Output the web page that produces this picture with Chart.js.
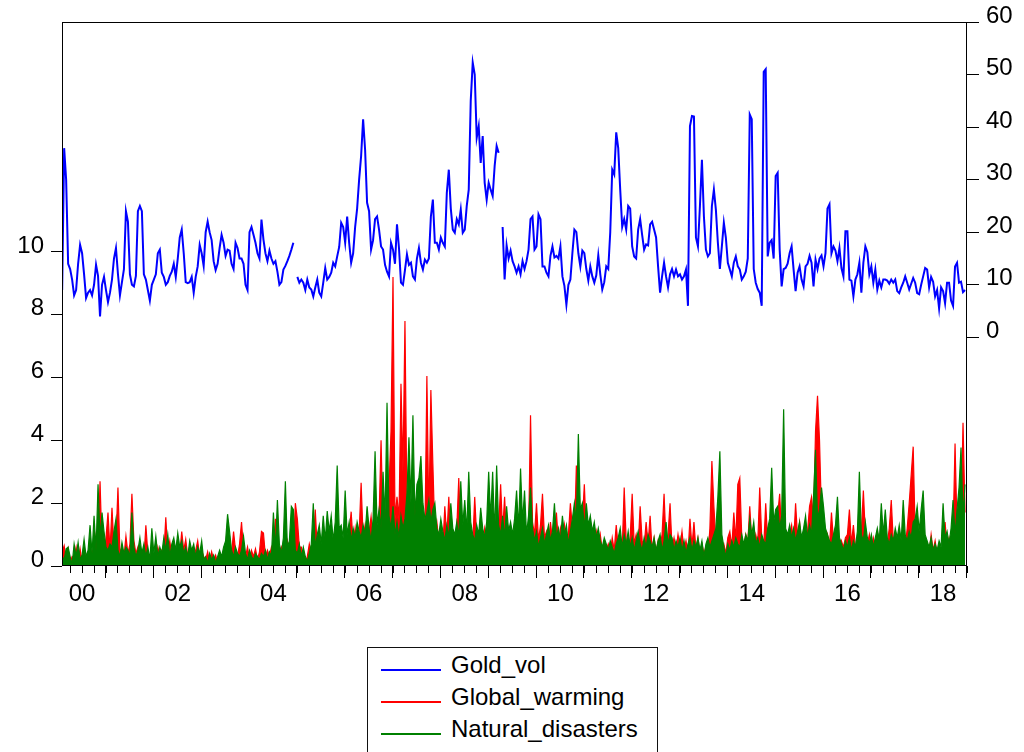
<!DOCTYPE html>
<html>
<head>
<meta charset="utf-8">
<script src="https://cdn.jsdelivr.net/npm/chart.js@4.4.1/dist/chart.umd.min.js"></script>
<style>
  body { margin: 0; background: #fff; }
  #quadro { position: relative; width: 1024px; height: 752px; overflow: hidden; font-family: 'Liberation Sans', Arial, sans-serif; }
  #grafico { position: absolute; left: 0; top: 0; }
  #legenda { position: absolute; left: 367px; top: 647px; width: 291px; height: 130px; border: 1px solid #111; box-sizing: border-box; background: #fff; }
  .linha { position: absolute; left: 13px; width: 60px; height: 2px; }
  .texto { position: absolute; left: 83px; font-size: 24px; line-height: 24px; color: #000; white-space: nowrap; }
</style>
</head>
<body>
<div id="quadro">
  <canvas id="grafico" width="1024" height="752"></canvas>
  <div id="legenda">
    <div class="linha" style="top:21px;background:#0000ff"></div><div class="texto" style="top:5px">Gold_vol</div>
    <div class="linha" style="top:53px;background:#ff0000"></div><div class="texto" style="top:37px">Global_warming</div>
    <div class="linha" style="top:85px;background:#008000"></div><div class="texto" style="top:69px">Natural_disasters</div>
  </div>
</div>
<script>
// observacoes semiquinzenais, 24 por ano, a partir da 3a de 2000
const inicioAno = 2000;
const porAno = 24;
const primeiraObs = 2;

const rotulosX = ['00', '02', '04', '06', '08', '10', '12', '14', '16', '18'];
const anosRotulo = [2000, 2002, 2004, 2006, 2008, 2010, 2012, 2014, 2016, 2018];
const ticksEsquerda = [0, 2, 4, 6, 8, 10];
const ticksDireita = [0, 10, 20, 30, 40, 50, 60];

const goldVol = [
  9, 36, 30, 14, 13, 11, 8, 9, 14, 17.6, 16, 12, 7.5, 8.5, 9, 8, 10, 13.8, 11.7, 4, 10, 11.5,
  9, 6.7, 8.5, 11, 15, 17, 12, 8, 10.5, 13, 24, 22, 12, 10, 9.7, 11.7, 24, 25, 24, 12, 11, 9, 7, 10,
  11, 12, 16, 16.7, 12.3, 11.5, 10, 10.5, 11.7, 12.5, 14, 11.5, 15, 19, 20.5, 16, 10.5, 10.3, 10.5, 11.5, 8.5, 11.5, 13.5, 17.6,
  16, 13.6, 20, 22, 20, 18.5, 14.5, 12.8, 14, 17, 19.5, 18, 15.5, 16.7, 16.5, 14, 13, 18, 17, 15, 15, 14, 10, 9,
  20, 21, 19.5, 18, 16, 15, 22.4, 18.6, 16, 14.5, 16.5, 15, 14, 14.5, 12.5, 10, 10.5, 12.9, 13.6, 14.5, 15.5, 16.7, 18, null,
  11.5, 10.4, 11, 10.4, 9, 11, 9.5, 9.1, 7.8, 9.5, 11, 8.5, 7.8, 10.4, 13.2, 11, 11.5, 12.3, 14.2, 13.5, 15.4, 17.2, 21.8, 21,
  18, 23, 18, 14.2, 16, 21, 24.5, 30, 34.5, 41.5, 35.7, 25.6, 24, 16.7, 18.5, 22.5, 23, 20.5, 17.3, 16.7, 13.8, 12.5, 11.6, 18,
  16.7, 14, 21.5, 17, 10.4, 10, 12.8, 15.8, 13.8, 14.2, 11.6, 11, 15, 17, 14.2, 12.9, 14.8, 14.2, 15, 23, 26.2, 18, 18, 16.7,
  19, 18, 17.3, 27.5, 31.9, 24.5, 20.5, 19.9, 22.5, 21.5, 24.3, 19.9, 20.5, 25, 28.1, 45, 52.3, 50, 38, 40.2, 33.2, 38.3, 29.4, 26.2,
  29.4, 28.1, 26.9, 32.6, 36.4, 35.1, null, 21, 11, 17.5, 15, 16.5, 14.5, 13.5, 12.3, 13.5, 12, 14.5, 13, 14.5, 16.7, 22.5, 23, 16.7,
  17.3, 23.4, 22.5, 13.5, 13.5, 12.3, 11.6, 15.5, 17.3, 15.2, 15.5, 15, 17.3, 11.6, 9.8, 6.2, 10, 11, 16, 20.5, 20, 16, 13.5, 16.5,
  16, 13, 10.8, 13.5, 11.6, 10.4, 11.8, 15.6, 12, 9.1, 10.5, 13.5, 13, 20, 31.9, 31, 39, 36, 28.1, 21, 22.5, 20.5, 25, 24.5,
  17.3, 15.4, 15, 20.5, 22.5, 19.5, 16.7, 17.7, 17.5, 21.5, 22, 20.5, 19, 13.5, 8.5, 11.6, 14.2, 11.6, 9.5, 12, 13, 11.6, 12.9, 11.6,
  12, 11, 11.6, 12.9, 6, 40.2, 42.1, 42, 19, 17.3, 25, 33.8, 23, 16.7, 15.4, 16, 25, 28.1, 24.3, 18, 13, 17.3, 21.8, 19,
  14.2, 12.9, 11.6, 14.2, 15.4, 13.5, 12.9, 11, 11.6, 12.5, 15, 42.4, 41.5, 13, 10.4, 9.2, 8.5, 6, 50.5, 51, 15.4, 18, 18.5, 15,
  30.7, 31.3, 16.7, 9.7, 13, 13.2, 14, 16, 17.3, 12.9, 8.8, 12.3, 13.5, 11, 9.7, 13.5, 14, 15.5, 14.2, 9.7, 14.8, 13, 15, 15.6,
  13.5, 16, 24.5, 25.3, 16, 17.3, 16.5, 14.5, 17, 13.2, 11.6, 20.2, 20.2, 11, 10.8, 7.8, 11, 12, 14.2, 8.5, 14.2, 17.3, 16.2, 12,
  13.5, 10.4, 12.9, 9.1, 10.8, 9.5, 11, 11, 10.8, 10.2, 11, 10.4, 11, 8.8, 8.4, 9.5, 10.4, 11.6, 10.4, 9.1, 10.2, 11.3, 10.4, 8.4,
  8.2, 10, 11.6, 13.2, 12.9, 9.5, 11.5, 10.6, 7.8, 9, 5.5, 9.5, 8.8, 6.5, 10.4, 10.4, 7, 6, 13.5, 14.2, 10.4, 10.6, 8.6, 9
];

const globalWarming = [
  0.45, 0.65, 0.2, 0.55, 0.1, 0.3, 0.25, 0.6, 0.15, 0.55, 0.1, 0.3, 0.15, 0.35, 0.2, 0.5, 0.3, 0.95, 0.4, 2.7, 0.6, 0.3,
  0.9, 1.7, 0.5, 1.85, 0.6, 0.8, 2.5, 0.4, 0.6, 0.3, 0.95, 0.4, 0.7, 2.3, 0.8, 0.4, 0.6, 0.3, 0.5, 0.2, 1.3, 0.4, 0.15, 0.5,
  0.3, 0.2, 0.6, 0.3, 0.5, 0.35, 1.55, 0.4, 0.8, 0.3, 0.6, 0.3, 0.7, 0.4, 1.1, 0.5, 0.85, 0.3, 0.6, 0.4, 0.3, 0.5, 0.8, 0.3,
  0.5, 0.3, 0.2, 0.45, 0.1, 0.45, 0.2, 0.35, 0.1, 0.4, 0.2, 0.3, 0.5, 0.3, 0.6, 0.4, 1.1, 0.5, 0.3, 0.7, 1.4, 0.5, 0.3, 0.6,
  0.2, 0.5, 0.3, 0.55, 0.2, 0.45, 1.1, 1.05, 0.3, 0.5, 0.3, 0.6, 0.4, 1.5, 0.8, 0.3, 0.6, 0.4, 0.5, 0.8, 0.3, 0.6, 0.4, 2.0,
  1.5, 0.6, 0.6, 0.2, 0.05, 0.3, 0.7, 0.4, 0.6, 1.8, 0.5, 1.0, 0.4, 0.7, 1.0, 0.5, 0.8, 0.5, 0.9, 0.6, 0.5, 0.8, 0.8, 0.5,
  0.7, 0.6, 1.0, 1.73, 0.7, 1.2, 0.6, 1.0, 2.65, 0.9, 1.3, 0.7, 1.1, 1.57, 0.8, 1.2, 1.0, 1.5, 4.0, 1.3, 1.8, 1.2, 2.5, 4.3,
  9.2, 1.5, 2.2, 1.5, 5.8, 3.0, 7.8, 1.8, 1.4, 2.0, 1.5, 2.0, 1.2, 0.8, 1.0, 1.3, 0.9, 6.05, 1.4, 5.6, 3.25, 1.0, 1.4, 0.8,
  1.0, 0.6, 1.9, 0.9, 2.2, 0.8, 1.1, 0.7, 1.2, 2.8, 0.9, 1.0, 0.6, 1.3, 0.8, 1.1, 0.7, 2.2, 0.9, 0.6, 1.0, 0.7, 1.2, 0.8,
  0.6, 1.0, 0.8, 1.3, 0.9, 1.2, 2.6, 1.1, 2.2, 0.8, 1.2, 0.7, 1.0, 0.6, 0.9, 1.3, 0.8, 1.0, 0.7, 1.2, 0.9, 4.8, 1.4, 1.0,
  2.0, 0.8, 1.3, 2.3, 0.9, 1.1, 0.6, 1.4, 0.8, 1.0, 1.7, 0.7, 1.2, 0.8, 1.3, 0.6, 1.0, 2.0, 1.2, 0.9, 3.2, 1.5, 1.1, 1.4,
  2.6, 1.0, 1.2, 0.8, 1.0, 0.7, 1.1, 0.6, 1.0, 0.5, 0.8, 0.5, 0.7, 0.4, 0.9, 0.5, 1.3, 0.6, 0.9, 0.5, 2.5, 0.8, 0.5, 0.9,
  2.3, 0.7, 1.0, 0.6, 1.9, 0.8, 0.6, 1.4, 0.7, 1.6, 0.5, 0.9, 0.4, 0.8, 0.6, 1.0, 2.3, 0.7, 1.0, 2.0, 0.6, 0.9, 0.5, 1.0,
  0.6, 1.1, 0.5, 0.8, 0.4, 1.5, 0.6, 1.4, 0.5, 0.9, 0.4, 0.7, 0.4, 0.6, 0.3, 1.2, 3.34, 1.9, 0.8, 0.6, 1.0, 0.5, 0.7, 0.4,
  0.9, 1.1, 0.6, 1.7, 0.8, 2.6, 2.8, 0.9, 0.6, 1.0, 0.7, 1.9, 0.8, 0.6, 1.0, 0.7, 2.5, 0.9, 0.6, 2.0, 0.8, 1.1, 0.6, 0.9,
  1.2, 1.6, 2.3, 1.0, 0.7, 1.1, 0.8, 1.0, 1.3, 0.7, 2.0, 0.9, 1.4, 0.6, 0.9, 0.7, 1.1, 1.9, 2.2, 1.5, 4.3, 5.42, 4.0, 1.6,
  1.0, 0.7, 1.0, 0.6, 1.7, 0.8, 0.6, 0.9, 0.5, 0.8, 0.6, 0.9, 1.0, 1.8, 0.7, 1.3, 0.6, 0.8, 0.6, 1.1, 2.4, 1.0, 0.7, 1.0,
  0.5, 0.9, 0.6, 1.1, 0.7, 0.9, 0.6, 1.0, 0.7, 1.2, 2.1, 0.8, 1.0, 0.6, 0.9, 0.7, 1.0, 0.6, 1.2, 2.0, 2.9, 3.8, 1.0, 0.7,
  0.9, 0.6, 0.8, 0.5, 0.7, 0.4, 1.0, 0.5, 0.8, 0.4, 0.6, 0.3, 0.7, 1.4, 0.6, 0.9, 0.6, 1.0, 3.9, 1.2, 0.8, 1.3, 4.56, 1.7
];

const naturalDisasters = [
  0.3, 0.2, 0.55, 0.6, 0.3, 0.05, 0.7, 0.3, 0.75, 0.2, 0.35, 0.85, 0.3, 0.5, 1.3, 0.4, 1.6, 0.5, 2.6, 0.9, 1.7, 1.1,
  0.6, 0.5, 0.7, 0.6, 1.1, 1.5, 0.5, 0.3, 0.75, 0.4, 0.6, 0.5, 0.3, 1.7, 0.6, 0.3, 0.5, 0.9, 0.4, 0.7, 0.3, 0.6, 0.2, 1.2,
  0.4, 0.95, 0.3, 0.6, 0.4, 0.9, 0.5, 1.0, 0.3, 0.7, 0.9, 0.5, 1.05, 0.6, 0.8, 0.4, 0.6, 0.3, 0.8, 0.5, 0.7, 0.3, 0.6, 0.4,
  0.8, 0.2, 0.3, 0.1, 0.4, 0.2, 0.35, 0.1, 0.3, 0.5, 0.3, 0.6, 0.8, 1.65, 1.1, 0.5, 0.3, 0.6, 0.4, 0.3, 0.5, 0.95, 0.4, 0.2,
  0.5, 0.3, 0.2, 0.4, 0.3, 0.2, 0.4, 0.3, 0.5, 0.2, 0.45, 0.3, 1.7, 0.5, 2.1, 0.7, 0.4, 0.9, 2.7, 0.6, 0.8, 1.9, 1.8, 0.5,
  0.4, 0.7, 0.3, 0.6, 0.3, 0.15, 0.4, 0.7, 2.0, 0.6, 1.0, 1.3, 0.7, 1.6, 0.8, 1.75, 1.1, 1.6, 0.8, 1.4, 3.2, 1.2, 1.3, 0.9,
  2.4, 1.0, 1.4, 0.8, 1.2, 0.9, 1.4, 1.1, 0.9, 1.3, 1.0, 1.9, 1.2, 0.8, 1.5, 3.65, 1.3, 1.8, 1.2, 3.0, 1.5, 5.2, 1.6, 1.2,
  1.9, 1.0, 1.4, 0.9, 1.6, 1.2, 1.5, 2.3, 4.1, 2.0, 4.8, 1.6, 2.6, 2.8, 3.5, 2.0, 1.5, 1.7, 2.1, 1.4, 1.8, 2.0, 1.2, 1.0,
  1.5, 1.1, 0.8, 1.3, 0.9, 2.0, 1.2, 1.0, 1.4, 0.9, 2.7, 1.3, 2.1, 1.1, 3.0, 1.4, 1.0, 0.8, 1.3, 1.0, 1.85, 1.2, 0.9, 1.4,
  3.0, 1.5, 3.0, 1.0, 3.2, 1.3, 1.0, 1.6, 0.9, 1.9, 1.1, 1.4, 1.0, 1.5, 2.4, 1.2, 3.1, 1.4, 2.4, 1.0, 1.6, 2.5, 1.2, 0.8,
  1.1, 0.6, 0.9, 1.2, 0.7, 1.0, 1.3, 0.8, 1.1, 2.0, 0.9, 1.2, 0.8, 1.6, 1.0, 1.3, 0.7, 1.1, 1.5, 2.0, 1.4, 4.2, 1.8, 2.0,
  1.2, 2.0, 1.3, 1.6, 1.1, 1.4, 0.9, 1.2, 0.8, 0.6, 0.9, 0.7, 0.5, 0.8, 0.6, 0.4, 0.7, 0.9, 1.2, 0.6, 1.0, 0.7, 1.1, 0.6,
  0.9, 0.5, 0.8, 1.1, 0.7, 0.5, 0.9, 0.6, 1.0, 0.8, 0.6, 0.9, 0.5, 0.8, 1.0, 0.5, 0.8, 1.4, 0.7, 1.0, 0.9, 0.5, 0.8, 0.6,
  0.9, 0.5, 0.8, 0.4, 0.7, 0.9, 0.5, 0.8, 0.6, 0.9, 0.5, 0.8, 0.3, 0.7, 0.9, 0.6, 0.8, 1.0, 1.2, 2.2, 3.65, 1.0, 0.6, 0.3,
  0.7, 0.5, 0.8, 0.6, 0.9, 0.7, 0.6, 1.0, 0.7, 1.0, 0.8, 1.5, 1.0, 1.4, 0.7, 0.9, 0.6, 1.0, 0.8, 0.7, 1.2, 1.5, 3.13, 1.4,
  1.8, 1.9, 1.2, 1.6, 4.99, 1.2, 1.0, 1.3, 0.9, 1.2, 0.8, 1.1, 1.4, 0.9, 1.2, 1.6, 0.9, 1.3, 1.0, 2.2, 3.7, 1.5, 1.8, 2.5,
  1.9, 1.2, 1.0, 0.8, 0.7, 1.0, 1.3, 2.2, 0.9, 0.7, 0.5, 0.8, 0.6, 0.9, 0.5, 0.8, 0.6, 1.1, 3.0, 1.0, 0.8, 1.4, 0.9, 0.7,
  1.0, 0.6, 0.9, 1.2, 0.8, 2.0, 1.0, 1.8, 0.9, 0.7, 1.0, 0.8, 1.2, 0.9, 1.3, 0.8, 2.1, 1.0, 0.8, 1.1, 0.9, 1.4, 1.5, 1.9,
  1.1, 1.8, 2.4, 1.0, 0.8, 0.6, 0.9, 0.5, 0.7, 0.5, 0.8, 0.6, 2.0, 0.9, 1.1, 0.7, 1.2, 2.1, 1.0, 1.8, 2.5, 3.77, 1.6, 2.6
];

const fonte = { family: "'Liberation Sans', Arial, sans-serif", size: 24 };

function pontos(serie) {
  return serie.map((v, i) => ({ x: inicioAno + (primeiraObs + i) / porAno, y: v }));
}

// moldura do grafico e marcas maiores no inicio de cada ano
const moldura = {
  id: 'moldura',
  afterDraw(chart) {
    const { ctx, chartArea: area, scales } = chart;
    ctx.save();
    ctx.strokeStyle = '#000';
    ctx.lineWidth = 1;
    ctx.strokeRect(area.left + 0.5, area.top + 0.5, area.right - area.left - 1, area.bottom - area.top - 1);
    ctx.beginPath();
    for (let ano = inicioAno + 1; ano <= 2019; ano++) {
      const px = Math.round(scales.x.getPixelForValue(ano)) - 0.5;
      ctx.moveTo(px, area.bottom);
      ctx.lineTo(px, area.bottom + 12);
    }
    ctx.stroke();
    ctx.restore();
  }
};

const trimestres = [];
for (let t = inicioAno + 0.25; t <= 2019; t += 0.25) trimestres.push(t);

new Chart(document.getElementById('grafico'), {
  type: 'line',
  data: {
    datasets: [
      {
        label: 'Gold_vol',
        data: pontos(goldVol),
        yAxisID: 'y1',
        borderColor: '#0000ff',
        borderWidth: 2,
        pointRadius: 0,
        order: 0,
      },
      {
        label: 'Global_warming',
        data: pontos(globalWarming),
        yAxisID: 'y',
        borderColor: '#ff0000',
        backgroundColor: '#ff0000',
        borderWidth: 1.2,
        fill: 'origin',
        pointRadius: 0,
        order: 2,
      },
      {
        label: 'Natural_disasters',
        data: pontos(naturalDisasters),
        yAxisID: 'y',
        borderColor: '#008000',
        backgroundColor: '#008000',
        borderWidth: 1.2,
        fill: 'origin',
        pointRadius: 0,
        order: 1,
      },
    ],
  },
  options: {
    responsive: false,
    animation: false,
    layout: { padding: { top: 22, left: 0, right: 0, bottom: 0 } },
    plugins: { legend: { display: false }, tooltip: { enabled: false } },
    scales: {
      x: {
        type: 'linear',
        min: 2000.08,
        max: 2019,
        afterBuildTicks: (scale) => { scale.ticks = trimestres.map(v => ({ value: v })); },
        afterFit: (scale) => { scale.height = 186; },
        border: { display: false },
        grid: { drawOnChartArea: false, drawTicks: true, tickLength: 7, tickColor: '#000' },
        ticks: {
          autoSkip: false,
          maxRotation: 0,
          padding: 7,
          color: '#000',
          font: fonte,
          callback: (v) => {
            const k = anosRotulo.indexOf(v - 0.5);
            return k >= 0 ? rotulosX[k] : '';
          },
        },
      },
      y: {
        position: 'left',
        min: 0,
        max: 17.32,
        afterBuildTicks: (scale) => { scale.ticks = ticksEsquerda.map(v => ({ value: v })); },
        afterFit: (scale) => { scale.width = 62; },
        border: { display: false },
        grid: { drawOnChartArea: false, tickLength: 11, tickColor: '#000' },
        ticks: { padding: 7, color: '#000', font: fonte, labelOffset: -6 },
      },
      y1: {
        position: 'right',
        min: -43.5,
        max: 60,
        afterBuildTicks: (scale) => { scale.ticks = ticksDireita.map(v => ({ value: v })); },
        afterFit: (scale) => { scale.width = 57; },
        border: { display: false },
        grid: { drawOnChartArea: false, tickLength: 12, tickColor: '#000' },
        ticks: { padding: 7, color: '#000', font: fonte, labelOffset: -6 },
      },
    },
  },
  plugins: [moldura],
});
</script>
</body>
</html>
